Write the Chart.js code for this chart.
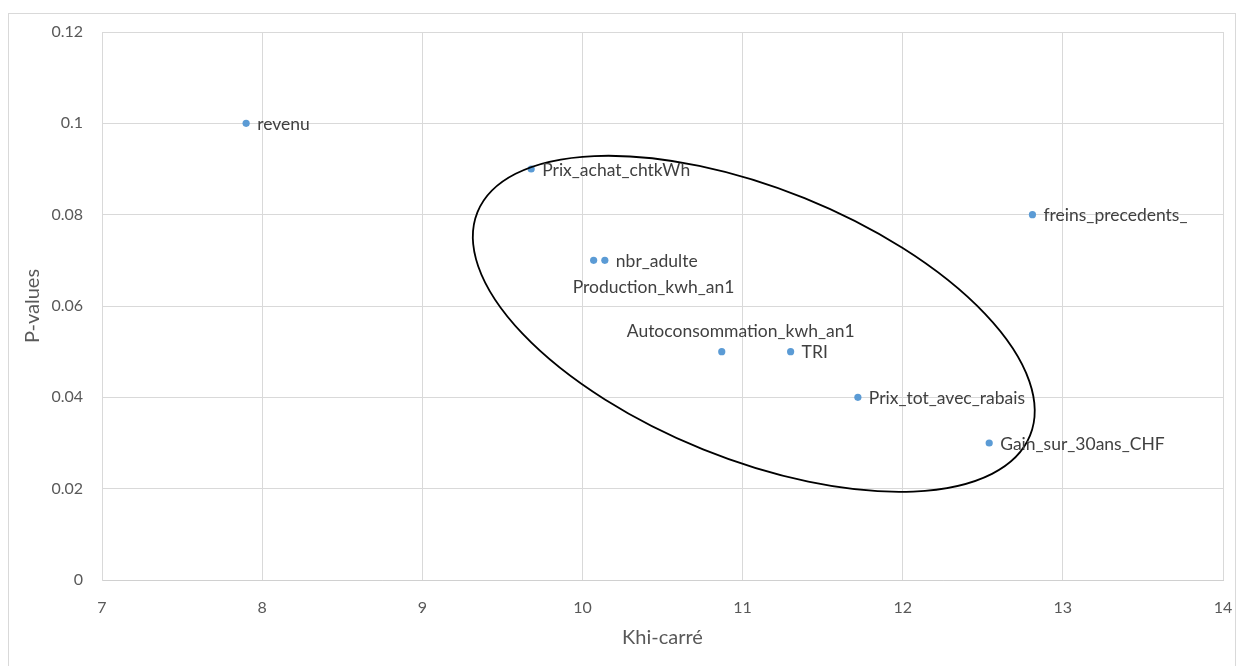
<!DOCTYPE html>
<html>
<head>
<meta charset="utf-8">
<script src="https://cdn.jsdelivr.net/npm/chart.js@4"></script>
<style>
  html, body { margin: 0; padding: 0; background: #fff; }
  #wrap { position: relative; width: 1238px; height: 666px; overflow: hidden; }
  #frame { position: absolute; left: 8px; top: 13px; width: 1226px; height: 700px; border: 1px solid #d9d9d9; }
  #chart { position: absolute; left: 0; top: 0; }
</style>
</head>
<body>
<div id="wrap">
  <div id="frame"></div>
  <canvas id="chart" width="1238" height="666"></canvas>
</div>
<script>
// Khi-carré vs P-values per variable, with a hand-drawn ellipse grouping the middle cluster

const VARIABLES = [
  'revenu',
  'Prix_achat_chtkWh',
  'Production_kwh_an1',
  'nbr_adulte',
  'Autoconsommation_kwh_an1',
  'TRI',
  'Prix_tot_avec_rabais',
  'Gain_sur_30ans_CHF',
  'freins_precedents_'
];
const KHI_CARRE = [7.90, 9.68, 10.07, 10.14, 10.87, 11.30, 11.72, 12.54, 12.81];
const P_VALUES  = [0.10, 0.09, 0.07, 0.07, 0.05, 0.05, 0.04, 0.03, 0.08];

const X_TICKS = [7, 8, 9, 10, 11, 12, 13, 14];
const Y_TICKS = [0, 0.02, 0.04, 0.06, 0.08, 0.1, 0.12];

const FONT = 'Lato, "Open Sans", sans-serif';
const POINT_BLUE = '#5b9bd5';

// label placement next to each point (pixel offsets from the point)
const LABEL_OFFSET = {
  'Production_kwh_an1':       { dx: -21, dy: 27 },
  'Autoconsommation_kwh_an1': { dx: -95, dy: -20 }
};

const labelPlugin = {
  id: 'pointLabels',
  afterDatasetsDraw(chart) {
    const { ctx } = chart;
    const meta = chart.getDatasetMeta(0);
    ctx.save();
    ctx.font = '17.5px ' + FONT;
    ctx.fillStyle = '#404040';
    ctx.textAlign = 'left';
    ctx.textBaseline = 'middle';
    meta.data.forEach((pt, i) => {
      const name = VARIABLES[i];
      const off = LABEL_OFFSET[name] || { dx: 11, dy: 1 };
      ctx.fillText(name, pt.x + off.dx, pt.y + off.dy);
    });
    ctx.restore();
  }
};

// ellipse drawn around the middle group, centred on data coordinates
const ellipsePlugin = {
  id: 'groupEllipse',
  afterDatasetsDraw(chart) {
    const { ctx, scales } = chart;
    const cx = scales.x.getPixelForValue(11.07);
    const cy = scales.y.getPixelForValue(0.0561);
    ctx.save();
    ctx.strokeStyle = '#000';
    ctx.lineWidth = 1.8;
    ctx.beginPath();
    ctx.ellipse(cx, cy, 298, 135.5, 22 * Math.PI / 180, 0, Math.PI * 2);
    ctx.stroke();
    ctx.restore();
  }
};

new Chart(document.getElementById('chart').getContext('2d'), {
  type: 'scatter',
  data: {
    datasets: [{
      label: 'P-values',
      data: KHI_CARRE.map((x, i) => ({ x: x, y: P_VALUES[i] })),
      backgroundColor: POINT_BLUE,
      borderColor: POINT_BLUE,
      borderWidth: 0,
      pointRadius: 3.6,
      pointHoverRadius: 3.6
    }]
  },
  options: {
    responsive: false,
    animation: false,
    events: [],
    layout: { padding: { top: 32, right: 15, left: 0, bottom: 0 } },
    plugins: { legend: { display: false }, tooltip: { enabled: false } },
    scales: {
      x: {
        type: 'linear',
        min: 7, max: 14,
        afterBuildTicks: s => { s.ticks = X_TICKS.map(v => ({ value: v })); },
        afterFit: s => { s.height = 86; s.paddingLeft = 0; s.paddingRight = 0; },
        grid: { color: '#d9d9d9', drawTicks: false },
        border: { color: '#d0d0d0' },
        ticks: { color: '#595959', font: { family: FONT, size: 16 }, padding: 18, callback: v => String(v) },
        title: { display: true, text: 'Khi-carré', color: '#595959', font: { family: FONT, size: 20 }, padding: { bottom: 16 } }
      },
      y: {
        type: 'linear',
        min: 0, max: 0.12,
        afterBuildTicks: s => { s.ticks = Y_TICKS.map(v => ({ value: v })); },
        afterFit: s => { s.width = 102; s.paddingTop = 0; s.paddingBottom = 0; },
        grid: { color: '#d9d9d9', drawTicks: false },
        border: { color: '#d9d9d9' },
        ticks: { color: '#595959', font: { family: FONT, size: 16 }, padding: 19, callback: v => String(v) },
        title: { display: true, text: 'P-values', color: '#595959', font: { family: FONT, size: 20 }, padding: { top: 21 } }
      }
    }
  },
  plugins: [ellipsePlugin, labelPlugin]
});
</script>
</body>
</html>
